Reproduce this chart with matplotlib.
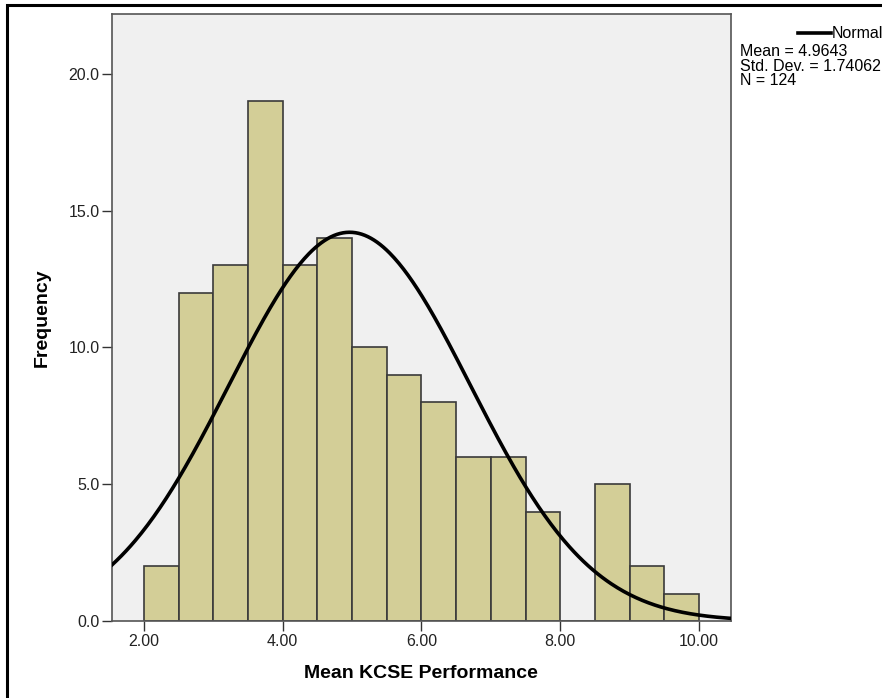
import numpy as np
import matplotlib.pyplot as plt
from matplotlib.patches import Rectangle

# histogram bins (width 0.5) and counts
bin_edges = [2.0, 2.5, 3.0, 3.5, 4.0, 4.5, 5.0, 5.5, 6.0, 6.5, 7.0, 7.5, 8.0, 8.5, 9.0, 9.5, 10.0]
counts = [2, 12, 13, 19, 13, 14, 10, 9, 8, 6, 6, 4, 0, 5, 2, 1]
mean = 4.9643
std = 1.74062
n = 124

x_ticks = [2, 4, 6, 8, 10]
y_ticks = [0, 5, 10, 15, 20]

plt.rcParams['font.family'] = ['Liberation Sans', 'DejaVu Sans']

fig = plt.figure(figsize=(8.82, 6.98), dpi=100)
ax = fig.add_axes([0.127, 0.1103, 0.7015, 0.8697])
ax.set_facecolor('#f0f0f0')

edges = np.array(bin_edges)
ax.bar(edges[:-1], counts, width=np.diff(edges), align='edge',
       color='#d3ce97', edgecolor='#3a3a3a', linewidth=1.2, zorder=2)

# normal curve scaled to counts
xmin, xmax = 1.54, 10.457
xs = np.linspace(xmin, xmax, 400)
bw = edges[1] - edges[0]
ys = n * bw / (std * np.sqrt(2 * np.pi)) * np.exp(-0.5 * ((xs - mean) / std) ** 2)
ax.plot(xs, ys, color='black', linewidth=2.6, zorder=3)

ax.set_xlim(xmin, xmax)
ax.set_ylim(0, 22.19)
ax.set_xticks(x_ticks)
ax.set_xticklabels([f'{v:.2f}' for v in x_ticks])
ax.set_yticks(y_ticks)
ax.set_yticklabels([f'{v:.1f}' for v in y_ticks])
ax.tick_params(direction='out', length=7, width=1, color='#333333',
               labelsize=11.5, labelcolor='#222222', pad=2)
for s in ax.spines.values():
    s.set_color('#555555')
    s.set_linewidth(1.2)

ax.set_xlabel('Mean KCSE Performance', fontsize=14, fontweight='bold', labelpad=12)
ax.set_ylabel('Frequency', fontsize=14, fontweight='bold', labelpad=13)

# legend block at the top right, like SPSS
fig.add_artist(plt.Line2D([0.9048, 0.942], [0.9527, 0.9527], color='black', linewidth=2.6))
fig.text(0.9433, 0.9527, 'Normal', fontsize=11.5, va='center', ha='left')
fig.text(0.839, 0.9262, f'Mean = {mean}', fontsize=11.5, va='center', ha='left')
fig.text(0.839, 0.9054, f'Std. Dev. = {std}', fontsize=11.5, va='center', ha='left')
fig.text(0.839, 0.8847, f'N = {n}', fontsize=11.5, va='center', ha='left')

# outer frame
fig.add_artist(Rectangle((7 / 882, -0.1), 1.2, 1 - 5 / 698 + 0.1, transform=fig.transFigure,
                         fill=False, edgecolor='black', linewidth=2.2))

fig.savefig('out.png', dpi=100)
